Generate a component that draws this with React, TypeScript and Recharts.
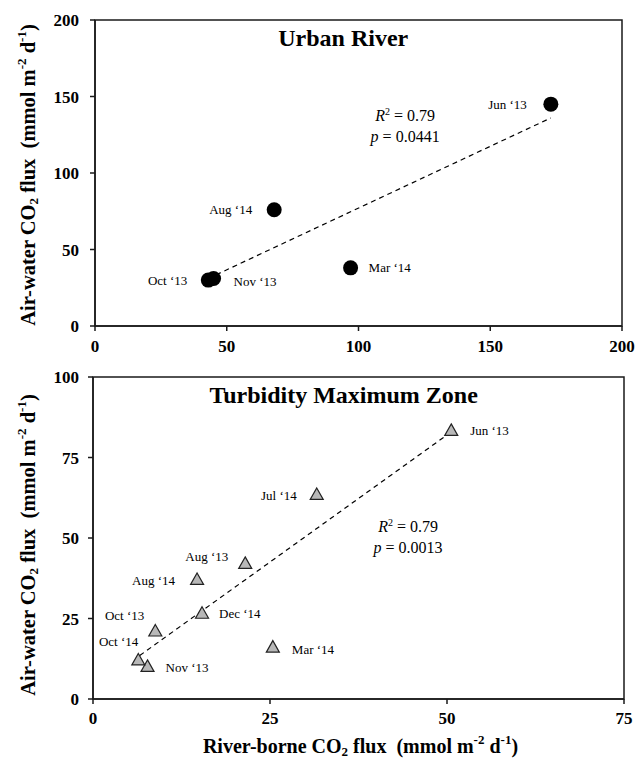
import React from "react";
import {
  ScatterChart,
  Scatter,
  XAxis,
  YAxis,
  ReferenceLine,
  ReferenceArea,
  ReferenceDot,
} from "recharts";

const SERIF = '"Liberation Serif", "Times New Roman", serif';
const INK = "#1a1a1a";
const Q = "\u2018";

// Urban River
const urbanMonths = [`Jun ${Q}13`, `Oct ${Q}13`, `Nov ${Q}13`, `Mar ${Q}14`, `Aug ${Q}14`];
const urbanRiverborne = [173, 43, 45, 97, 68];
const urbanAirWater = [145, 30, 31, 38, 76];
const urbanTrendX = [46, 173];
const urbanTrendY = [33.5, 136];
const urbanTicks = [0, 50, 100, 150, 200];

// Turbidity Maximum Zone
const tmzMonths = [
  `Jun ${Q}13`, `Aug ${Q}13`, `Oct ${Q}13`, `Nov ${Q}13`, `Mar ${Q}14`,
  `Jul ${Q}14`, `Aug ${Q}14`, `Oct ${Q}14`, `Dec ${Q}14`,
];
const tmzRiverborne = [50.6, 21.5, 8.8, 7.7, 25.4, 31.6, 14.7, 6.4, 15.4];
const tmzAirWater = [83.3, 42, 21, 10, 16, 63.4, 37, 12, 26.5];
const tmzTrendX = [6.6, 50];
const tmzTrendY = [13.5, 82];
const tmzXTicks = [0, 25, 50, 75];
const tmzYTicks = [0, 25, 50, 75, 100];

// label placement: [dx, dy, anchor]
type Place = [number, number, "start" | "end" | "middle"];
const urbanPlace: Record<string, Place> = {
  [`Jun ${Q}13`]: [-24, 0, "end"],
  [`Oct ${Q}13`]: [-21, 0, "end"],
  [`Nov ${Q}13`]: [20, 3, "start"],
  [`Mar ${Q}14`]: [18, 0, "start"],
  [`Aug ${Q}14`]: [-22, 0, "end"],
};
const tmzPlace: Record<string, Place> = {
  [`Jun ${Q}13`]: [19, 0, "start"],
  [`Aug ${Q}13`]: [-17, -7, "end"],
  [`Oct ${Q}13`]: [-11, -16, "end"],
  [`Nov ${Q}13`]: [18, 1, "start"],
  [`Mar ${Q}14`]: [19, 2, "start"],
  [`Jul ${Q}14`]: [-20, 1, "end"],
  [`Aug ${Q}14`]: [-22, 1, "end"],
  [`Oct ${Q}14`]: [0, -19, "end"],
  [`Dec ${Q}14`]: [17, 0, "start"],
};

const urbanData = urbanMonths.map((m, i) => ({ month: m, x: urbanRiverborne[i], y: urbanAirWater[i] }));
const tmzData = tmzMonths.map((m, i) => ({ month: m, x: tmzRiverborne[i], y: tmzAirWater[i] }));

const tickStyle = { fontFamily: SERIF, fontWeight: 700, fontSize: 17, fill: "#000" };

function PointLabel({ cx, cy, text, place }: { cx: number; cy: number; text: string; place: Place }) {
  return (
    <text
      x={cx + place[0]}
      y={cy + place[1]}
      textAnchor={place[2]}
      dominantBaseline="central"
      fontFamily={SERIF}
      fontSize={13}
      fill="#000"
    >
      {text}
    </text>
  );
}

// eslint-disable-next-line @typescript-eslint/no-explicit-any
function CircleDot(props: any) {
  const { cx, cy, payload } = props;
  return (
    <g>
      <circle cx={cx} cy={cy} r={7.5} fill="#000" />
      <PointLabel cx={cx} cy={cy} text={payload.month} place={urbanPlace[payload.month]} />
    </g>
  );
}

// eslint-disable-next-line @typescript-eslint/no-explicit-any
function TriangleDot(props: any) {
  const { cx, cy, payload } = props;
  const h = 11.5;
  const w = 13;
  const pts = `${cx},${cy - h * 0.6} ${cx + w / 2},${cy + h * 0.4} ${cx - w / 2},${cy + h * 0.4}`;
  return (
    <g>
      <polygon points={pts} fill="#b8b8b8" stroke="#222" strokeWidth={1.2} />
      <PointLabel cx={cx} cy={cy} text={payload.month} place={tmzPlace[payload.month]} />
    </g>
  );
}

function Title({ cx, cy, text }: { cx?: number; cy?: number; text: string }) {
  return (
    <text x={cx} y={cy} textAnchor="middle" dominantBaseline="central" fontFamily={SERIF} fontWeight={700} fontSize={24} fill="#000">
      {text}
    </text>
  );
}

function Stats({ cx, cy, p }: { cx?: number; cy?: number; p: string }) {
  return (
    <text x={cx} y={cy} textAnchor="middle" fontFamily={SERIF} fontSize={16} fill="#000">
      <tspan x={cx} dy={0}>
        <tspan fontStyle="italic">R</tspan>
        <tspan fontSize={10} dy={-6}>2</tspan>
        <tspan dy={6}> = 0.79</tspan>
      </tspan>
      <tspan x={cx} dy={21}>
        <tspan fontStyle="italic">p</tspan> = {p}
      </tspan>
    </text>
  );
}

function FluxUnits({ sub = 13 }: { sub?: number }) {
  return (
    <>
      CO<tspan fontSize={sub} dy={5}>2</tspan>
      <tspan dy={-5}>{" flux\u00a0\u00a0(mmol m"}</tspan>
      <tspan fontSize={sub} dy={-7}>-2</tspan>
      <tspan dy={7}> d</tspan>
      <tspan fontSize={sub} dy={-7}>-1</tspan>
      <tspan dy={7}>)</tspan>
    </>
  );
}

// eslint-disable-next-line @typescript-eslint/no-explicit-any
function YTitle(props: any) {
  const vb = props.viewBox;
  const x = vb.x + 28;
  const y = vb.y + vb.height / 2 + (props.shift ?? 0);
  return (
    <text
      transform={`translate(${x},${y}) rotate(-90)`}
      textAnchor="middle"
      dominantBaseline="central"
      fontFamily={SERIF}
      fontWeight={700}
      fontSize={20.5}
      fill="#000"
    >
      Air-water <FluxUnits />
    </text>
  );
}

// eslint-disable-next-line @typescript-eslint/no-explicit-any
function XTitle(props: any) {
  const vb = props.viewBox;
  return (
    <text
      x={vb.x + vb.width / 2 + 2}
      y={vb.y + 47}
      textAnchor="middle"
      dominantBaseline="central"
      fontFamily={SERIF}
      fontWeight={700}
      fontSize={20}
      fill="#000"
    >
      River-borne <FluxUnits />
    </text>
  );
}

export default function App() {
  return (
    <div style={{ position: "absolute", left: 0, top: 0, width: 637, height: 758, background: "#fff" }}>
      <ScatterChart width={637} height={360} margin={{ top: 20, right: 15, bottom: 0, left: 0 }}>
        <XAxis
          type="number"
          dataKey="x"
          domain={[0, 200]}
          ticks={urbanTicks}
          allowDataOverflow
          height={34}
          tickSize={5}
          tickMargin={9}
          stroke={INK}
          strokeWidth={1.5}
          tick={tickStyle}
        />
        <YAxis
          type="number"
          dataKey="y"
          domain={[0, 200]}
          ticks={urbanTicks}
          allowDataOverflow
          width={95}
          tickSize={5}
          tickMargin={11}
          stroke={INK}
          strokeWidth={1.5}
          tick={tickStyle}
          label={{ content: <YTitle shift={2} /> }}
        />
        <ReferenceArea x1={0} x2={200} y1={0} y2={200} fill="none" stroke={INK} strokeWidth={1.5} />
        <ReferenceLine
          segment={[
            { x: urbanTrendX[0], y: urbanTrendY[0] },
            { x: urbanTrendX[1], y: urbanTrendY[1] },
          ]}
          stroke="#000"
          strokeWidth={1.2}
          strokeDasharray="5 4"
        />
        <ReferenceDot x={94.2} y={188} r={0} shape={(p: any) => <Title cx={p.cx} cy={p.cy} text="Urban River" />} />
        <ReferenceDot x={117.7} y={134} r={0} shape={(p: any) => <Stats cx={p.cx} cy={p.cy} p="0.0441" />} />
        <Scatter data={urbanData} shape={<CircleDot />} isAnimationActive={false} />
      </ScatterChart>

      <ScatterChart width={637} height={398} margin={{ top: 17, right: 13, bottom: 0, left: 0 }}>
        <XAxis
          type="number"
          dataKey="x"
          domain={[0, 75]}
          ticks={tmzXTicks}
          allowDataOverflow
          height={59}
          tickSize={5}
          tickMargin={8}
          stroke={INK}
          strokeWidth={1.5}
          tick={tickStyle}
          label={{ content: <XTitle /> }}
        />
        <YAxis
          type="number"
          dataKey="y"
          domain={[0, 100]}
          ticks={tmzYTicks}
          allowDataOverflow
          width={93}
          tickSize={5}
          tickMargin={9}
          stroke={INK}
          strokeWidth={1.5}
          tick={tickStyle}
          label={{ content: <YTitle shift={7} /> }}
        />
        <ReferenceArea x1={0} x2={75} y1={0} y2={100} fill="none" stroke={INK} strokeWidth={1.5} />
        <ReferenceLine
          segment={[
            { x: tmzTrendX[0], y: tmzTrendY[0] },
            { x: tmzTrendX[1], y: tmzTrendY[1] },
          ]}
          stroke="#000"
          strokeWidth={1.2}
          strokeDasharray="5 4"
        />
        <ReferenceDot x={35.4} y={94.4} r={0} shape={(p: any) => <Title cx={p.cx} cy={p.cy} text="Turbidity Maximum Zone" />} />
        <ReferenceDot x={44.5} y={52} r={0} shape={(p: any) => <Stats cx={p.cx} cy={p.cy} p="0.0013" />} />
        <Scatter data={tmzData} shape={<TriangleDot />} isAnimationActive={false} />
      </ScatterChart>
    </div>
  );
}
